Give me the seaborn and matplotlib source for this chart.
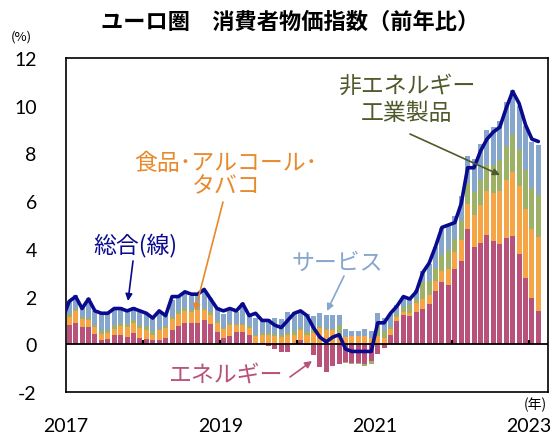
import numpy as np
import pandas as pd
import matplotlib
matplotlib.use("Agg")
import matplotlib.pyplot as plt
import seaborn as sns

# Contributions (pp), monthly Jan 2017 - Feb 2023
energy = [0.79, 0.90, 0.72, 0.74, 0.44, 0.18, 0.21, 0.39, 0.38, 0.29, 0.46, 0.28,
          0.21, 0.20, 0.19, 0.25, 0.59, 0.77, 0.91, 0.88, 0.91, 1.03, 0.87, 0.53,
          0.27, 0.36, 0.52, 0.52, 0.38, 0.02, 0.05, -0.06, -0.18, -0.31, -0.32, 0.02,
          0.19, -0.03, -0.44, -0.95, -1.17, -0.91, -0.82, -0.76, -0.80, -0.80, -0.81, -0.68,
          -0.40, -0.16, 0.41, 0.99, 1.24, 1.20, 1.36, 1.46, 1.67, 2.25, 2.61, 2.47,
          3.14, 3.49, 4.84, 4.09, 4.26, 4.58, 4.32, 4.21, 4.44, 4.52, 3.80, 2.78,
          1.93, 1.40]
food = [0.35, 0.49, 0.35, 0.29, 0.29, 0.25, 0.27, 0.27, 0.37, 0.43, 0.43, 0.41,
        0.37, 0.20, 0.41, 0.43, 0.47, 0.51, 0.49, 0.47, 0.51, 0.41, 0.37, 0.35,
        0.35, 0.44, 0.29, 0.29, 0.31, 0.31, 0.35, 0.39, 0.35, 0.29, 0.37, 0.39,
        0.42, 0.40, 0.46, 0.69, 0.61, 0.61, 0.38, 0.32, 0.34, 0.36, 0.36, 0.25,
        0.33, 0.28, 0.24, 0.15, 0.13, 0.11, 0.35, 0.44, 0.41, 0.41, 0.48, 0.70,
        0.73, 0.87, 1.04, 1.31, 1.56, 1.85, 2.04, 2.20, 2.45, 2.72, 2.83, 2.87,
        2.91, 3.09]
neig = [0.13, 0.08, 0.08, 0.08, 0.08, 0.11, 0.13, 0.13, 0.13, 0.11, 0.11, 0.13,
        0.18, 0.16, 0.05, 0.08, 0.08, 0.11, 0.13, 0.08, 0.08, 0.08, 0.11, 0.11,
        0.08, 0.11, 0.05, 0.05, 0.08, 0.05, 0.08, 0.08, 0.08, 0.08, 0.11, 0.13,
        0.08, 0.13, 0.13, 0.08, 0.05, 0.05, 0.42, -0.03, -0.03, -0.03, -0.08, -0.13,
        0.40, 0.27, 0.08, 0.11, 0.19, 0.32, 0.19, 0.70, 0.56, 0.54, 0.65, 0.78,
        0.54, 0.79, 0.87, 0.97, 1.08, 1.10, 1.15, 1.31, 1.41, 1.56, 1.56, 1.64,
        1.72, 1.75]
services = [0.55, 0.59, 0.46, 0.82, 0.59, 0.73, 0.68, 0.73, 0.68, 0.55, 0.55, 0.55,
            0.55, 0.59, 0.68, 0.46, 0.73, 0.59, 0.64, 0.59, 0.59, 0.68, 0.59, 0.59,
            0.59, 0.63, 0.50, 0.86, 0.45, 0.72, 0.54, 0.59, 0.68, 0.68, 0.86, 0.82,
            0.69, 0.73, 0.60, 0.55, 0.55, 0.55, 0.41, 0.32, 0.23, 0.18, 0.28, 0.32,
            0.59, 0.54, 0.54, 0.38, 0.46, 0.29, 0.38, 0.46, 0.71, 0.88, 1.13, 1.00,
            0.98, 1.07, 1.15, 1.41, 1.49, 1.45, 1.58, 1.62, 1.84, 1.84, 1.79, 1.88,
            1.92, 2.10]
# Headline (line), Dec 2016 - Feb 2023
total = [1.1,
         1.8, 2.0, 1.5, 1.9, 1.4, 1.3, 1.3, 1.5, 1.5, 1.4, 1.5, 1.4,
         1.3, 1.1, 1.4, 1.2, 2.0, 2.0, 2.2, 2.1, 2.1, 2.3, 1.9, 1.5,
         1.4, 1.5, 1.4, 1.7, 1.2, 1.3, 1.0, 1.0, 0.8, 0.7, 1.0, 1.3,
         1.4, 1.2, 0.7, 0.3, 0.1, 0.3, 0.4, -0.2, -0.3, -0.3, -0.3, -0.3,
         0.9, 0.9, 1.3, 1.6, 2.0, 1.9, 2.2, 3.0, 3.4, 4.1, 4.9, 5.0,
         5.1, 5.9, 7.4, 7.4, 8.1, 8.6, 8.9, 9.1, 9.9, 10.6, 10.1, 9.2,
         8.6, 8.5]
year_labels = ["2017", "2019", "2021", "2023"]
series_names = ["エネルギー", "食品･アルコール･\nタバコ", "非エネルギー\n工業製品", "サービス"]

C_EN = "#B8527A"
C_FOOD = "#F5A546"
C_NEIG = "#9DB267"
C_SERV = "#87A6CC"
C_LINE = "#0A0A8E"
C_NEIG_TXT = "#4F5A2B"
C_FOOD_TXT = "#E8892B"

sns.set_style("white")
plt.rcParams["font.family"] = ["Noto Sans CJK JP", "DejaVu Sans"]

W, H = 558, 435
fig = plt.figure(figsize=(W / 100, H / 100), dpi=100)
ax = fig.add_axes([66 / W, 1 - 393 / H, (548 - 66) / W, (393 - 59) / H])

n = len(energy)
x = np.arange(n)
pos_b = np.zeros(n)
neg_b = np.zeros(n)
for vals, c in zip([energy, food, neig, services], [C_EN, C_FOOD, C_NEIG, C_SERV]):
    v = np.array(vals)
    bottom = np.where(v >= 0, pos_b, neg_b)
    ax.bar(x, v, bottom=bottom, width=0.78, color=c, linewidth=0, zorder=2)
    pos_b += np.where(v >= 0, v, 0)
    neg_b += np.where(v < 0, v, 0)

df = pd.DataFrame({"m": np.arange(-1, n), "total": total})
sns.lineplot(data=df, x="m", y="total", color=C_LINE, linewidth=2.6, ax=ax,
             legend=False, zorder=4)

ax.axhline(0, color="black", linewidth=1.3, zorder=3)
year_bounds = np.arange(11.5, n, 12)
ax.vlines(year_bounds, 0, 0.18, color="black", linewidth=1.5, zorder=3)

ax.set_xlim(-0.5, 74.5)
ax.set_ylim(-2, 12)
ax.set_xlabel("")
ax.set_ylabel("")
ax.set_yticks(np.arange(-2, 13, 2))
ax.set_yticklabels([str(v) for v in range(-2, 13, 2)], family=["Lato", "DejaVu Sans"], fontsize=14)
ax.tick_params(axis="y", direction="in", length=5, width=1, pad=21, colors="black")
ax.set_xticks([-0.5, 23.5, 47.5, 71.5])
ax.set_xticklabels(year_labels, family=["Lato", "DejaVu Sans"], fontsize=14)
ax.tick_params(axis="x", length=0, pad=18, colors="black")
for s in ax.spines.values():
    s.set_color("black")
    s.set_linewidth(1.2)
    s.set_visible(True)

def F(px, py):
    return (px / W, 1 - py / H)

fig.text(*F(290, 22), "ユーロ圏　消費者物価指数（前年比）", ha="center", va="center",
         fontsize=16, fontweight="bold", color="black")
fig.text(*F(21, 37), "(%)", ha="center", va="center", fontsize=9.5, color="black")
fig.text(*F(535, 405), "(年)", ha="center", va="center", fontsize=10, color="black")

def note(txt, pos, start, end, color, ls=1.2):
    fig.text(*F(*pos), txt, ha="center", va="center", multialignment="center",
             fontsize=16.5, color=color, linespacing=ls)
    ax.annotate("", xy=F(*end), xytext=F(*start), xycoords="figure fraction",
                textcoords="figure fraction",
                arrowprops=dict(arrowstyle="-|>", color=color, lw=1.2,
                                mutation_scale=10, shrinkA=0, shrinkB=0), zorder=5)

note(series_names[2], (407, 100), (410, 135), (500, 176), C_NEIG_TXT, 1.2)
note(series_names[1], (226, 175), (223, 203), (195, 312), C_FOOD_TXT, 1.05)
note("総合(線)", (135, 245), (133, 262), (128, 302), C_LINE)
note(series_names[3], (337, 263), (344, 277), (327, 312), C_SERV)
note(series_names[0], (225, 375), (290, 378), (312, 362), C_EN)

fig.savefig("out.png", dpi=100)
